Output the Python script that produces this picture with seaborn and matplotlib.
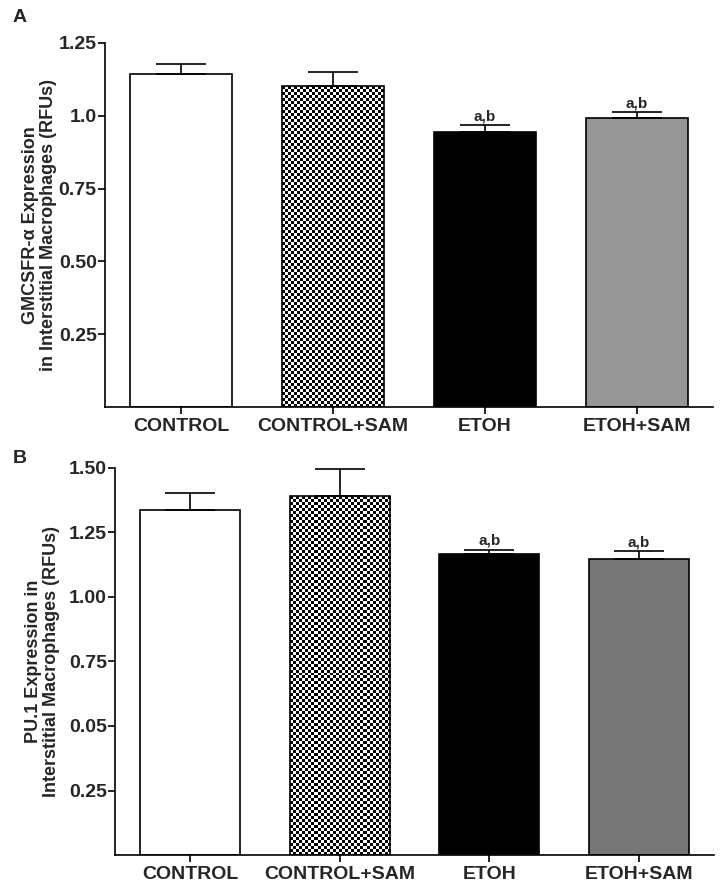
import numpy as np
import pandas as pd
import matplotlib
matplotlib.use("Agg")
import matplotlib.pyplot as plt
import seaborn as sns

# ---------------- data ----------------
categories = ["CONTROL", "CONTROL+SAM", "ETOH", "ETOH+SAM"]

a_values = [1.143, 1.102, 0.943, 0.992]
a_errors = [0.035, 0.048, 0.025, 0.020]
a_ticks = [0.25, 0.50, 0.75, 1.00, 1.25]
a_ticklabels = ["0.25", "0.50", "0.75", "1.0", "1.25"]
a_ylabel = "GMCSFR-\u03b1 Expression\nin Interstitial Macrophages (RFUs)"

b_values = [1.337, 1.391, 1.167, 1.147]
b_errors = [0.066, 0.105, 0.015, 0.030]
b_ticks = [0.25, 0.50, 0.75, 1.00, 1.25, 1.50]
b_ticklabels = ["0.25", "0.05", "0.75", "1.00", "1.25", "1.50"]
b_ylabel = "PU.1 Expression in\nInterstitial Macrophages (RFUs)"

sig_label = "a,b"
sig_bars = ["ETOH", "ETOH+SAM"]

a_colors = ["#ffffff", "#ffffff", "#000000", "#969696"]
b_colors = ["#ffffff", "#ffffff", "#000000", "#777777"]

# ---------------- style ----------------
sns.set_style("ticks")
plt.rcParams["font.family"] = ["Liberation Sans", "DejaVu Sans"]
plt.rcParams["font.weight"] = "bold"

fig = plt.figure(figsize=(7.24, 8.84), dpi=100)
axA = fig.add_axes([0.145, 0.5396, 0.840, 0.4118])
axB = fig.add_axes([0.159, 0.0328, 0.827, 0.4378])

LW = 1.2


def draw_panel(ax, values, errors, colors, ticks, ticklabels, ylabel, ymax, label_x):
    df = pd.DataFrame({"cat": categories, "val": values})
    sns.barplot(data=df, x="cat", y="val", hue="cat", palette=colors,
                width=0.67, edgecolor="black", linewidth=LW, legend=False,
                errorbar=None, ax=ax, saturation=1)
    ax.set_xlim(-0.5, 3.5)
    ax.set_ylim(0, ymax)
    patches = [p for p in ax.patches][:len(categories)]

    # checkerboard fill for CONTROL+SAM
    p = patches[1]
    x0, w, h = p.get_x(), p.get_width(), p.get_height()
    fig.canvas.draw()
    (px0, py0) = ax.transData.transform((x0, 0))
    (px1, py1) = ax.transData.transform((x0 + w, h))
    cell = 3.0
    nx = max(2, int(round((px1 - px0) / cell)))
    ny = max(2, int(round((py1 - py0) / cell)))
    ii, jj = np.meshgrid(np.arange(nx), np.arange(ny))
    checker = ((ii + jj) % 2).astype(float)
    im = ax.imshow(checker, cmap="gray", extent=(x0, x0 + w, 0, h),
                   interpolation="nearest", aspect="auto", zorder=0.8,
                   vmin=0, vmax=1)
    im.set_clip_path(p)
    p.set_facecolor("none")
    p.set_zorder(2)
    ax.set_xlim(-0.5, 3.5)
    ax.set_ylim(0, ymax)

    # one-sided error bars
    centers = [q.get_x() + q.get_width() / 2 for q in patches]
    tops = [q.get_height() for q in patches]
    ax.errorbar(centers, tops, yerr=[np.zeros(len(errors)), errors], fmt="none",
                ecolor="black", elinewidth=LW, capsize=18, capthick=LW, zorder=3)

    for c, t, e, cat in zip(centers, tops, errors, categories):
        if cat in sig_bars:
            ax.annotate(sig_label, (c, t + e), xytext=(0, 1.5), textcoords="offset points",
                        ha="center", va="bottom", fontsize=11, fontweight="bold")

    ax.set_yticks(ticks)
    ax.set_yticklabels(ticklabels, fontsize=14, fontweight="bold")
    ax.set_xticks(range(len(categories)))
    ax.set_xticklabels(categories, fontsize=14, fontweight="bold")
    ax.tick_params(axis="y", length=5, width=LW, pad=1, color="black")
    ax.tick_params(axis="x", length=5, width=LW, pad=3, color="black")
    ax.set_xlabel("")
    ax.set_ylabel(ylabel, fontsize=13, fontweight="bold", linespacing=1.05)
    ax.yaxis.set_label_coords(label_x, 0.5)
    for s in ["top", "right"]:
        ax.spines[s].set_visible(False)
    for s in ["left", "bottom"]:
        ax.spines[s].set_linewidth(LW)
        ax.spines[s].set_color("black")


draw_panel(axA, a_values, a_errors, a_colors, a_ticks, a_ticklabels, a_ylabel, 1.25, -0.079)
draw_panel(axB, b_values, b_errors, b_colors, b_ticks, b_ticklabels, b_ylabel, 1.50, -0.092)

fig.text(13 / 724, 1 - 17 / 884, "A", fontsize=14, fontweight="bold", va="center", ha="left")
fig.text(13 / 724, 1 - 458 / 884, "B", fontsize=14, fontweight="bold", va="center", ha="left")

fig.savefig("out.png", dpi=100, facecolor="white")
